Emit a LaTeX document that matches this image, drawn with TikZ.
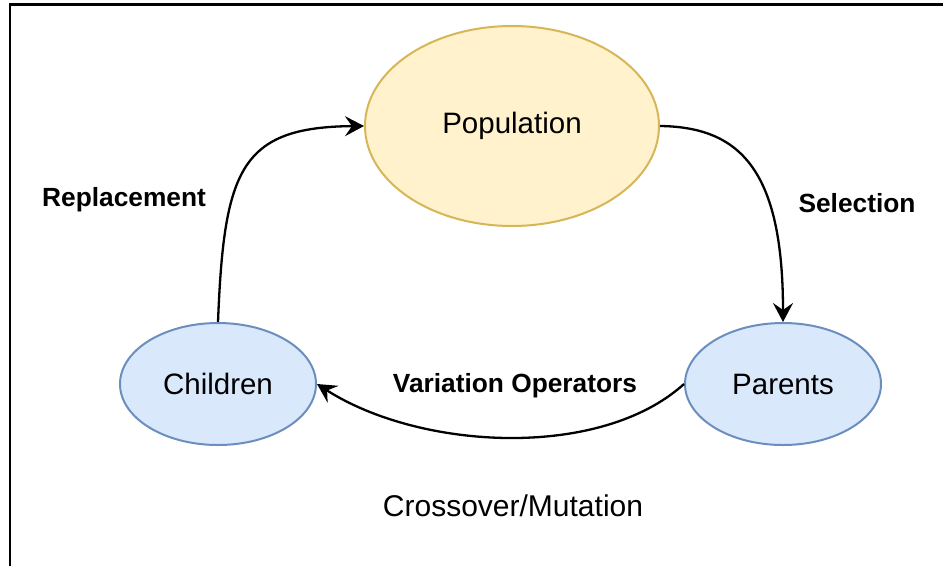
\documentclass[tikz,border=0pt]{standalone}
\usepackage{fontspec}
\setmainfont{Liberation Sans}
\usetikzlibrary{shapes.geometric,arrows.meta}
\definecolor{yfill}{HTML}{FFF2CC}
\definecolor{ydraw}{HTML}{D6B656}
\definecolor{bfill}{HTML}{DAE8FC}
\definecolor{bdraw}{HTML}{6C8EBF}
\tikzset{
  ybox/.style={ellipse,draw=ydraw,fill=yfill,line width=2pt,inner sep=0pt,minimum width=294pt,minimum height=200pt,font=\fontsize{29.5}{34}\selectfont},
  bbox/.style={ellipse,draw=bdraw,fill=bfill,line width=2pt,inner sep=0pt,minimum width=196pt,minimum height=122pt,font=\fontsize{29.5}{34}\selectfont},
  conn/.style={line width=2.3pt,-{Stealth[length=19pt,width=20pt,inset=7pt]}},
  lbl/.style={font=\fontsize{26.3}{30}\selectfont\bfseries,inner sep=0pt},
  plain/.style={font=\fontsize{30}{34}\selectfont,inner sep=0pt}
}
\begin{document}
\begin{tikzpicture}[x=1pt,y=-1pt]
\useasboundingbox (0,0) rectangle (943,566);
\draw[line width=2.5pt] (10,566) -- (10,4.5) -- (943,4.5);
\node[ybox] (pop) at (512,126) {Population};
\node[bbox] (chi) at (218,384) {Children};
\node[bbox] (par) at (783,384) {Parents};
\draw[conn] (pop.east) .. controls (740,127) and (783,170) .. (par.north);
\draw[conn] (chi.north) .. controls (224,170) and (240,127) .. (pop.west);
\draw[conn] (par.west) .. controls (600,460) and (420,450) .. (chi.east);
\node[lbl] (rep) at (124,200) {Replacement};
\node[lbl] (sel) at (857,203) {Selection};
\node[lbl] (var) at (515,386) {Variation Operators};
\node[plain] (cm) at (513,506) {Crossover/Mutation};
\end{tikzpicture}
\end{document}
